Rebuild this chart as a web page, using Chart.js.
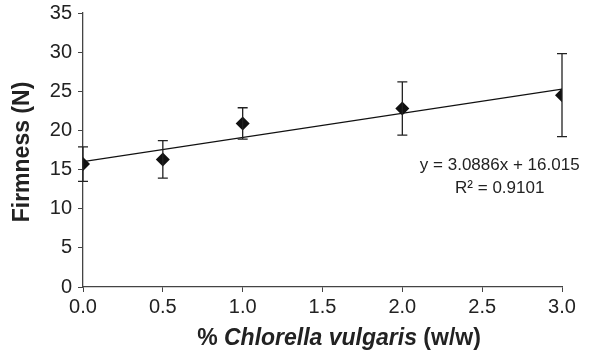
<!DOCTYPE html>
<html>
<head>
<meta charset="utf-8">
<script src="https://cdn.jsdelivr.net/npm/chart.js@4/dist/chart.umd.min.js"></script>
<style>
  html, body { margin:0; padding:0; background:#fff; }
  #wrap { width:606px; height:354px; position:relative; }
</style>
</head>
<body>
<div id="wrap"><canvas id="chart" width="606" height="354"></canvas></div>
<script>
// chlorella content (% w/w) and measured firmness (N)
const concentrations = [0.0, 0.5, 1.0, 2.0, 3.0];
const firmness = [15.7, 16.3, 20.9, 22.8, 24.5];
const firmnessSd = [2.2, 2.4, 2.0, 3.4, 5.3];

// linear fit shown on the chart
const slope = 3.0886;
const intercept = 16.015;
const fitText = ['y = 3.0886x + 16.015', 'R² = 0.9101'];

const xTicks = [0, 0.5, 1, 1.5, 2, 2.5, 3];
const yTicks = [0, 5, 10, 15, 20, 25, 30, 35];

const FONT = '"Liberation Sans", Arial, sans-serif';
const INK = '#222';

const fitLine = [0, 3].map(x => ({ x, y: slope * x + intercept }));

// error bars with caps, drawn through the scales
const errorBars = {
  id: 'errorBars',
  afterDatasetsDraw(chart) {
    const { ctx, scales: { x, y } } = chart;
    ctx.save();
    ctx.strokeStyle = INK;
    ctx.lineWidth = 1.3;
    concentrations.forEach((c, i) => {
      const px = x.getPixelForValue(c);
      const top = y.getPixelForValue(firmness[i] + firmnessSd[i]);
      const bot = y.getPixelForValue(firmness[i] - firmnessSd[i]);
      ctx.beginPath();
      ctx.moveTo(px, top); ctx.lineTo(px, bot);
      ctx.moveTo(px - 5, top); ctx.lineTo(px + 5, top);
      ctx.moveTo(px - 5, bot); ctx.lineTo(px + 5, bot);
      ctx.stroke();
    });
    ctx.restore();
  }
};

// titles and fit equation
const labels = {
  id: 'labels',
  afterDraw(chart) {
    const { ctx, scales: { x, y } } = chart;
    ctx.save();
    ctx.fillStyle = INK;

    // y title
    ctx.font = 'bold 23px ' + FONT;
    ctx.textAlign = 'center';
    ctx.textBaseline = 'middle';
    ctx.translate(23, 152);
    ctx.rotate(-Math.PI / 2);
    ctx.fillText('Firmness (N)', 0, 0);
    ctx.setTransform(1, 0, 0, 1, 0, 0);

    // x title with italic species name
    const parts = [
      ['bold 23px ' + FONT, '% '],
      ['italic bold 23px ' + FONT, 'Chlorella vulgaris'],
      ['bold 23px ' + FONT, ' (w/w)']
    ];
    let total = 0;
    parts.forEach(p => { ctx.font = p[0]; total += ctx.measureText(p[1]).width; });
    let cx = 339 - total / 2;
    ctx.textAlign = 'left';
    ctx.textBaseline = 'middle';
    parts.forEach(p => {
      ctx.font = p[0];
      ctx.fillText(p[1], cx, 339);
      cx += ctx.measureText(p[1]).width;
    });

    // fit equation
    ctx.font = '17px ' + FONT;
    ctx.textAlign = 'center';
    const ex = x.getPixelForValue(2.61);
    ctx.fillText(fitText[0], ex, y.getPixelForValue(15.6));
    ctx.fillText(fitText[1], ex, y.getPixelForValue(12.6));
    ctx.restore();
  }
};

new Chart(document.getElementById('chart'), {
  type: 'scatter',
  data: {
    datasets: [
      {
        label: 'Firmness',
        data: concentrations.map((c, i) => ({ x: c, y: firmness[i] })),
        pointStyle: 'rectRot',
        pointRadius: 7,
        backgroundColor: '#111',
        borderColor: '#111',
        borderWidth: 0,
        order: 0
      },
      {
        label: 'Linear fit',
        type: 'line',
        data: fitLine,
        borderColor: '#111',
        borderWidth: 1.3,
        pointRadius: 0,
        fill: false,
        order: 1
      }
    ]
  },
  options: {
    responsive: false,
    animation: false,
    events: [],
    layout: { padding: { top: 13, right: 44, left: 0, bottom: 0 } },
    plugins: { legend: { display: false }, tooltip: { enabled: false } },
    scales: {
      x: {
        type: 'linear',
        min: 0, max: 3,
        afterFit: s => { s.height = 67; },
        afterBuildTicks: s => { s.ticks = xTicks.map(v => ({ value: v })); },
        ticks: {
          color: INK,
          font: { family: FONT, size: 20 },
          padding: 3,
          maxRotation: 0,
          callback: v => v.toFixed(1)
        },
        grid: { display: true, drawOnChartArea: false, drawTicks: true, tickLength: 5, color: '#444' },
        border: { display: true, color: '#444', width: 1.3 }
      },
      y: {
        min: 0, max: 35,
        afterFit: s => { s.width = 83; s.paddingTop = 0; },
        afterBuildTicks: s => { s.ticks = yTicks.map(v => ({ value: v })); },
        ticks: {
          color: INK,
          font: { family: FONT, size: 20, lineHeight: 1 },
          padding: 6
        },
        grid: { display: true, drawOnChartArea: false, drawTicks: true, tickLength: 5, color: '#444' },
        border: { display: true, color: '#444', width: 1.3 }
      }
    }
  },
  plugins: [errorBars, labels]
});
</script>
</body>
</html>
